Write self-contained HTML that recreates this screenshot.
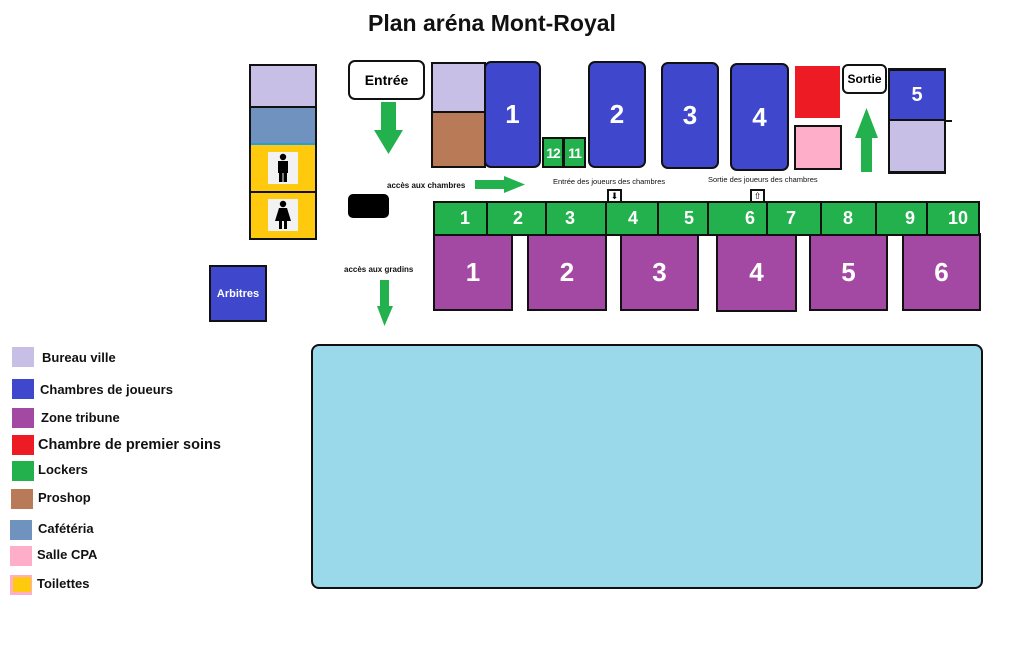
<!DOCTYPE html>
<html><head><meta charset="utf-8"><style>
body{margin:0;width:1023px;height:660px;background:#fff;position:relative;overflow:hidden;font-family:"Liberation Sans",sans-serif}
.b{position:absolute;box-sizing:border-box}
.k{border:2px solid #111}
.n{color:#fff;font-weight:bold;display:flex;align-items:center;justify-content:center}
.t{position:absolute;font-weight:bold;color:#111;white-space:nowrap}
.lg{position:absolute;left:12px;width:22px;height:20px}
.ll{position:absolute;font-weight:bold;font-size:13px;color:#111;white-space:nowrap}
</style></head><body>
<div class="t" style="left:368px;top:10px;font-size:23px">Plan aréna Mont-Royal</div>

<!-- left column -->
<div class="b k" style="left:249px;top:64px;width:68px;height:176px;background:#ffc90e"></div>
<div class="b" style="left:251px;top:66px;width:64px;height:40px;background:#c8bfe7"></div>
<div class="b" style="left:251px;top:106px;width:64px;height:39px;background:#7092be;border-top:2px solid #111;border-bottom:2px solid #1fa0e0"></div>
<div class="b" style="left:249px;top:191px;width:68px;height:2px;background:#111"></div>
<div class="b" style="left:268px;top:152px;width:30px;height:32px;background:#f2f2f2"></div>
<svg class="b" style="left:268px;top:152px" width="30" height="32"><circle cx="15" cy="5" r="3.2" fill="#000"/><rect x="10" y="9" width="10" height="12" fill="#000"/><rect x="11" y="20" width="3.5" height="10" fill="#000"/><rect x="15.5" y="20" width="3.5" height="10" fill="#000"/></svg>
<div class="b" style="left:268px;top:199px;width:30px;height:32px;background:#f2f2f2"></div>
<svg class="b" style="left:268px;top:199px" width="30" height="32"><circle cx="15" cy="5" r="3.2" fill="#000"/><polygon points="11,9 19,9 23,22 7,22" fill="#000"/><rect x="11" y="21" width="3" height="9" fill="#000"/><rect x="16" y="21" width="3" height="9" fill="#000"/></svg>

<div class="b k n" style="left:209px;top:265px;width:58px;height:57px;background:#3f48cc;font-size:11px">Arbitres</div>

<div class="b k" style="left:348px;top:60px;width:77px;height:40px;border-radius:7px;display:flex;align-items:center;justify-content:center;font-weight:bold;font-size:14px">Entrée</div>
<svg class="b" style="left:370px;top:100px" width="40" height="60"><polygon points="11,2 26,2 26,30 33,30 18.5,54 4,30 11,30" fill="#22b14c"/></svg>
<div class="b" style="left:348px;top:194px;width:41px;height:24px;background:#000;border-radius:5px"></div>
<div class="t" style="left:387px;top:181px;font-size:8px">accès aux chambres</div>
<svg class="b" style="left:474px;top:176px" width="52" height="18"><polygon points="1,4 30,4 30,0 51,8.5 30,17 30,13 1,13" fill="#22b14c"/></svg>
<div class="t" style="left:344px;top:265px;font-size:8px">accès aux gradins</div>
<svg class="b" style="left:376px;top:278px" width="18" height="50"><polygon points="4,2 13,2 13,28 17,28 8.5,48 1,28 4,28" fill="#22b14c"/></svg>

<!-- top rooms -->
<div class="b k" style="left:431px;top:62px;width:55px;height:106px;background:#b97a57"></div>
<div class="b" style="left:433px;top:64px;width:51px;height:49px;background:#c8bfe7;border-bottom:2px solid #111"></div>
<div class="b k n" style="left:484px;top:61px;width:57px;height:107px;background:#3f48cc;border-radius:7px;font-size:26px">1</div>
<div class="b k n" style="left:542px;top:137px;width:22px;height:31px;background:#22b14c;font-size:14px;letter-spacing:-1px">12</div>
<div class="b k n" style="left:563px;top:137px;width:23px;height:31px;background:#22b14c;font-size:14px;letter-spacing:-1px">11</div>
<div class="b k n" style="left:588px;top:61px;width:58px;height:107px;background:#3f48cc;border-radius:7px;font-size:26px">2</div>
<div class="b k n" style="left:661px;top:62px;width:58px;height:107px;background:#3f48cc;border-radius:7px;font-size:26px">3</div>
<div class="b k n" style="left:730px;top:63px;width:59px;height:108px;background:#3f48cc;border-radius:7px;font-size:26px">4</div>
<div class="b" style="left:795px;top:66px;width:45px;height:52px;background:#ed1c24"></div>
<div class="b k" style="left:794px;top:125px;width:48px;height:45px;background:#ffaec9"></div>
<div class="b k" style="left:842px;top:64px;width:45px;height:30px;border-radius:6px;display:flex;align-items:center;justify-content:center;font-weight:bold;font-size:12px">Sortie</div>
<svg class="b" style="left:854px;top:106px" width="26" height="66"><polygon points="12.5,2 24,32 18,32 18,66 7,66 7,32 1,32" fill="#22b14c"/></svg>
<div class="b k" style="left:888px;top:68px;width:58px;height:106px;background:#c8bfe7;border-top-width:3px;border-bottom-width:3px"></div>
<div class="b n" style="left:890px;top:71px;width:54px;height:50px;background:#3f48cc;border-bottom:2px solid #111;font-size:20px">5</div>
<div class="b" style="left:944px;top:120px;width:8px;height:2px;background:#111"></div>

<div class="t" style="left:553px;top:177px;font-size:7.5px;font-weight:normal">Entrée des joueurs des chambres</div>
<div class="t" style="left:708px;top:175px;font-size:7.5px;font-weight:normal">Sortie des joueurs des chambres</div>
<div class="b" style="left:607px;top:189px;width:15px;height:14px;border:2px solid #111;background:#fff;font-size:9px;line-height:10px;text-align:center">⬇</div>
<div class="b" style="left:750px;top:189px;width:15px;height:14px;border:2px solid #111;background:#fff;font-size:9px;line-height:10px;text-align:center">⇧</div>

<!-- tribunes -->
<div class="b k n" style="left:433px;top:233px;width:80px;height:78px;background:#a349a4;font-size:26px">1</div>
<div class="b k n" style="left:527px;top:233px;width:80px;height:78px;background:#a349a4;font-size:26px">2</div>
<div class="b k n" style="left:620px;top:233px;width:79px;height:78px;background:#a349a4;font-size:26px">3</div>
<div class="b k n" style="left:716px;top:233px;width:81px;height:79px;background:#a349a4;font-size:26px">4</div>
<div class="b k n" style="left:809px;top:233px;width:79px;height:78px;background:#a349a4;font-size:26px">5</div>
<div class="b k n" style="left:902px;top:233px;width:79px;height:78px;background:#a349a4;font-size:26px">6</div>

<!-- lockers row -->
<div class="b k" style="left:433px;top:201px;width:547px;height:35px;background:#22b14c"></div>
<div class="b" style="left:486px;top:201px;width:2px;height:35px;background:#111"></div>
<div class="b" style="left:545px;top:201px;width:2px;height:35px;background:#111"></div>
<div class="b" style="left:605px;top:201px;width:2px;height:35px;background:#111"></div>
<div class="b" style="left:657px;top:201px;width:2px;height:35px;background:#111"></div>
<div class="b" style="left:707px;top:201px;width:2px;height:35px;background:#111"></div>
<div class="b" style="left:766px;top:201px;width:2px;height:35px;background:#111"></div>
<div class="b" style="left:820px;top:201px;width:2px;height:35px;background:#111"></div>
<div class="b" style="left:875px;top:201px;width:2px;height:35px;background:#111"></div>
<div class="b" style="left:926px;top:201px;width:2px;height:35px;background:#111"></div>
<div class="b n" style="left:450px;top:203px;width:30px;height:31px;font-size:18px">1</div>
<div class="b n" style="left:503px;top:203px;width:30px;height:31px;font-size:18px">2</div>
<div class="b n" style="left:555px;top:203px;width:30px;height:31px;font-size:18px">3</div>
<div class="b n" style="left:618px;top:203px;width:30px;height:31px;font-size:18px">4</div>
<div class="b n" style="left:674px;top:203px;width:30px;height:31px;font-size:18px">5</div>
<div class="b n" style="left:735px;top:203px;width:30px;height:31px;font-size:18px">6</div>
<div class="b n" style="left:776px;top:203px;width:30px;height:31px;font-size:18px">7</div>
<div class="b n" style="left:833px;top:203px;width:30px;height:31px;font-size:18px">8</div>
<div class="b n" style="left:895px;top:203px;width:30px;height:31px;font-size:18px">9</div>
<div class="b n" style="left:940px;top:203px;width:36px;height:31px;font-size:18px">10</div>

<!-- ice -->
<div class="b k" style="left:311px;top:344px;width:672px;height:245px;background:#99d9ea;border-radius:8px"></div>

<!-- legend -->
<div class="lg" style="top:347px;background:#c8bfe7"></div><div class="ll" style="left:42px;top:350px">Bureau ville</div>
<div class="lg" style="top:379px;background:#3f48cc"></div><div class="ll" style="left:40px;top:382px">Chambres de joueurs</div>
<div class="lg" style="top:408px;background:#a349a4"></div><div class="ll" style="left:41px;top:410px">Zone tribune</div>
<div class="lg" style="top:435px;background:#ed1c24"></div><div class="ll" style="left:38px;top:437px;font-size:14.5px">Chambre de premier soins</div>
<div class="lg" style="top:461px;background:#22b14c"></div><div class="ll" style="left:38px;top:462px">Lockers</div>
<div class="lg" style="top:489px;left:11px;background:#b97a57"></div><div class="ll" style="left:38px;top:490px">Proshop</div>
<div class="lg" style="top:520px;left:10px;background:#7092be"></div><div class="ll" style="left:38px;top:521px">Cafétéria</div>
<div class="lg" style="top:546px;left:10px;background:#ffaec9"></div><div class="ll" style="left:37px;top:547px">Salle CPA</div>
<div class="lg" style="top:575px;left:10px;background:#ffaec9"></div><div class="b" style="left:13px;top:577px;width:18px;height:15px;background:#ffc90e"></div><div class="ll" style="left:37px;top:576px">Toilettes</div>
</body></html>
